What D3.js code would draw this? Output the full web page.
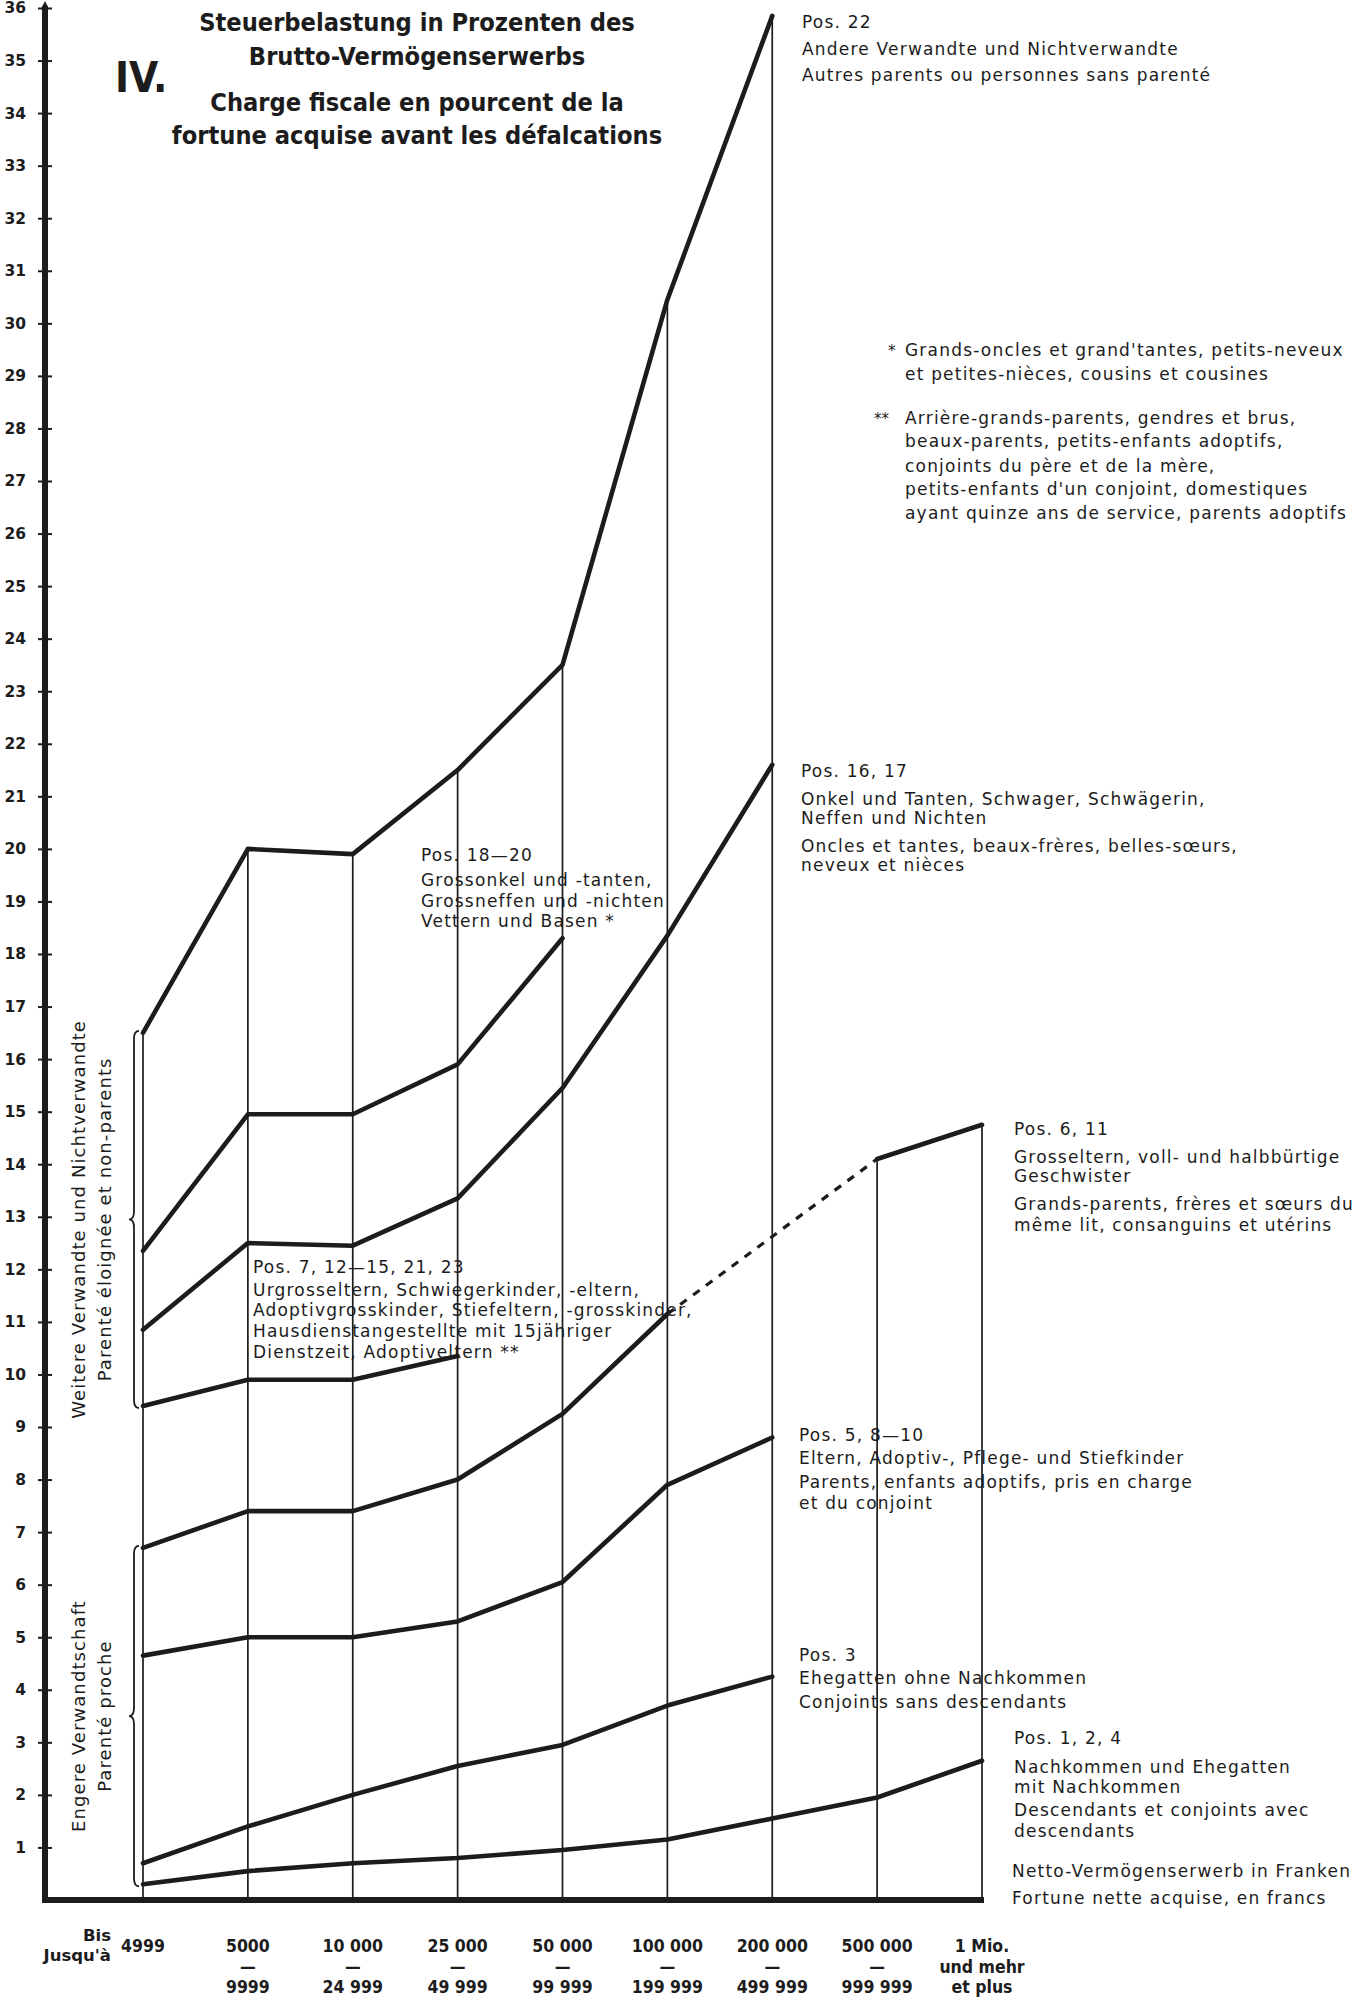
<!DOCTYPE html>
<html><head><meta charset="utf-8">
<script src="https://cdn.jsdelivr.net/npm/d3@7"></script>
<style>
html,body{margin:0;padding:0;background:#fff;}
svg{display:block;}
</style></head><body>
<svg id="c" width="1365" height="2001"></svg>
<script>
// ---------- DATA ----------
const categories = ["bis 4999","5000–9999","10 000–24 999","25 000–49 999","50 000–99 999","100 000–199 999","200 000–499 999","500 000–999 999","1 Mio. und mehr"];
const tickTop = ["4999","5000","10 000","25 000","50 000","100 000","200 000","500 000","1 Mio."];
const tickMid = ["","—","—","—","—","—","—","—","und mehr"];
const tickBot = ["","9999","24 999","49 999","99 999","199 999","499 999","999 999","et plus"];
const yTicks = d3.range(1, 37);

// tax burden in % per bracket (null = not drawn)
const pos22    = [16.5, 20.0, 19.9, 21.5, 23.5, 30.45, 35.85, null, null];
const pos18_20 = [12.35, 14.95, 14.95, 15.9, 18.3, null, null, null, null];
const pos16_17 = [10.85, 12.5, 12.45, 13.35, 15.45, 18.35, 21.6, null, null];
const pos7     = [9.4, 9.9, 9.9, 10.35, null, null, null, null, null];
const pos6_11  = [6.7, 7.4, 7.4, 8.0, 9.25, 11.15, null, 14.1, 14.75];
const pos5     = [4.65, 5.0, 5.0, 5.3, 6.05, 7.9, 8.8, null, null];
const pos3     = [0.7, 1.4, 2.0, 2.55, 2.95, 3.7, 4.25, null, null];
const pos124   = [0.3, 0.55, 0.7, 0.8, 0.95, 1.15, 1.55, 1.95, 2.65];

const groupFar  = [pos22, pos18_20, pos16_17, pos7];
const groupNear = [pos6_11, pos5, pos3, pos124];

const titleDe = ["Steuerbelastung in Prozenten des", "Brutto-Vermögenserwerbs"];
const titleFr = ["Charge fiscale en pourcent de la", "fortune acquise avant les défalcations"];
const chartNo = "IV.";
const note22   = ["Pos. 22", "Andere Verwandte und Nichtverwandte", "Autres parents ou personnes sans parenté"];
const noteStar1 = ["Grands-oncles et grand'tantes, petits-neveux", "et petites-nièces, cousins et cousines"];
const noteStar2 = ["Arrière-grands-parents, gendres et brus,", "beaux-parents, petits-enfants adoptifs,", "conjoints du père et de la mère,", "petits-enfants d'un conjoint, domestiques", "ayant quinze ans de service, parents adoptifs"];
const note16   = ["Pos. 16, 17", "Onkel und Tanten, Schwager, Schwägerin,", "Neffen und Nichten", "Oncles et tantes, beaux-frères, belles-sœurs,", "neveux et nièces"];
const note18   = ["Pos. 18—20", "Grossonkel und -tanten,", "Grossneffen und -nichten", "Vettern und Basen *"];
const note6    = ["Pos. 6, 11", "Grosseltern, voll- und halbbürtige", "Geschwister", "Grands-parents, frères et sœurs du", "même lit, consanguins et utérins"];
const note7    = ["Pos. 7, 12—15, 21, 23", "Urgrosseltern, Schwiegerkinder, -eltern,", "Adoptivgrosskinder, Stiefeltern, -grosskinder,", "Hausdienstangestellte mit 15jähriger", "Dienstzeit, Adoptiveltern **"];
const note5    = ["Pos. 5, 8—10", "Eltern, Adoptiv-, Pflege- und Stiefkinder", "Parents, enfants adoptifs, pris en charge", "et du conjoint"];
const note3    = ["Pos. 3", "Ehegatten ohne Nachkommen", "Conjoints sans descendants"];
const note124  = ["Pos. 1, 2, 4", "Nachkommen und Ehegatten", "mit Nachkommen", "Descendants et conjoints avec", "descendants"];
const noteAxis = ["Netto-Vermögenserwerb in Franken", "Fortune nette acquise, en francs"];
const groupFarLabel  = ["Weitere Verwandte und Nichtverwandte", "Parenté éloignée et non-parents"];
const groupNearLabel = ["Engere Verwandtschaft", "Parenté proche"];
const bisLabel = ["Bis", "Jusqu'à"];

// ---------- DRAW ----------
const svg = d3.select("#c");
const INK = "#1c1c1c";
const FONT = "'DejaVu Sans', 'Open Sans', sans-serif";
const NARROW = "'Liberation Sans Narrow', 'DejaVu Sans Condensed', 'Arial Narrow', sans-serif";

svg.append("rect").attr("width", 1365).attr("height", 2001).attr("fill", "#fff");

const y = d3.scaleLinear().domain([0, 36]).range([1900, 8]);
const x = d3.scalePoint().domain(categories).range([143, 982]);
const axisX = 45;

// vertical guide lines up to the highest series value at each bracket
const allSeries = [pos22, pos18_20, pos16_17, pos7, pos6_11, pos5, pos3, pos124];
const tops = categories.map((c, i) => d3.max(allSeries, s => s[i] == null ? undefined : s[i]));
svg.append("g").selectAll("line").data(categories).join("line")
  .attr("x1", d => x(d)).attr("x2", d => x(d))
  .attr("y1", y(0)).attr("y2", (d, i) => y(tops[i]))
  .attr("stroke", INK).attr("stroke-width", 1.7);

// series lines
const lineGen = d3.line()
  .defined(d => d.v != null)
  .x(d => x(d.c)).y(d => y(d.v));
const toPts = s => s.map((v, i) => ({c: categories[i], v}));

// dashed connection across gaps
const gapGen = d3.line().x(d => x(d.c)).y(d => y(d.v));
allSeries.forEach(s => {
  const idx = s.map((v, i) => v == null ? -1 : i).filter(i => i >= 0);
  for (let k = 1; k < idx.length; k++) {
    if (idx[k] - idx[k-1] > 1) {
      svg.append("path")
        .attr("d", gapGen([{c: categories[idx[k-1]], v: s[idx[k-1]]}, {c: categories[idx[k]], v: s[idx[k]]}]))
        .attr("fill", "none").attr("stroke", INK).attr("stroke-width", 3.2)
        .attr("stroke-dasharray", "8,8");
    }
  }
});
svg.append("g").selectAll("path").data(allSeries).join("path")
  .attr("d", s => lineGen(toPts(s)))
  .attr("fill", "none").attr("stroke", INK).attr("stroke-width", 4.6)
  .attr("stroke-linejoin", "round").attr("stroke-linecap", "round");

// y axis
const yAxis = d3.axisLeft(y).tickValues(yTicks).tickSize(0).tickPadding(19).tickFormat(d3.format("d"));
const gy = svg.append("g").attr("transform", `translate(${axisX},0)`).call(yAxis);
gy.select(".domain").remove();
gy.selectAll(".tick text").attr("font-family", FONT).attr("font-weight", "bold")
  .attr("font-size", 15.5).attr("fill", INK);
gy.selectAll(".tick").append("line").attr("x1", -7).attr("x2", 7)
  .attr("stroke", INK).attr("stroke-width", 2);
svg.append("line").attr("x1", axisX).attr("x2", axisX).attr("y1", y(0) + 3).attr("y2", y(36) - 2)
  .attr("stroke", INK).attr("stroke-width", 6);
svg.append("path").attr("d", `M${axisX-3.5},${y(36)} L${axisX},${y(36)-7} L${axisX+3.5},${y(36)} Z`).attr("fill", INK);

// baseline
svg.append("line").attr("x1", axisX - 3).attr("x2", x(categories[8]) + 2)
  .attr("y1", y(0)).attr("y2", y(0)).attr("stroke", INK).attr("stroke-width", 6);

// x labels
const gx = svg.append("g").attr("font-family", NARROW).attr("font-weight", "bold").attr("font-size", 17.5).attr("fill", INK).attr("text-anchor", "middle");
[[tickTop, 1952], [tickMid, 1973], [tickBot, 1993]].forEach(([arr, yy]) => {
  gx.selectAll(null).data(categories).join("text")
    .attr("x", d => x(d)).attr("y", yy).text((d, i) => arr[i]);
});
svg.append("g").attr("font-family", FONT).attr("font-weight", "bold").attr("font-size", 16.5).attr("fill", INK).attr("text-anchor", "end")
  .selectAll("text").data(bisLabel).join("text")
  .attr("x", 111).attr("y", (d, i) => 1941 + i * 20).text(d => d);

// title
const gt = svg.append("g").attr("font-family", NARROW).attr("font-weight", "bold").attr("fill", INK).attr("text-anchor", "middle").attr("font-size", 25.2);
gt.selectAll(null).data(titleDe).join("text").attr("x", 417).attr("y", (d, i) => 31 + i * 34).text(d => d);
gt.selectAll(null).data(titleFr).join("text").attr("x", 417).attr("y", (d, i) => 111 + i * 33).text(d => d);
svg.append("text").attr("x", 115).attr("y", 92).attr("font-family", NARROW).attr("font-weight", "bold")
  .attr("font-size", 42).attr("fill", INK).text(chartNo);

// annotation helper
function block(lines, x0, baselines) {
  svg.append("g").attr("font-family", FONT).attr("font-size", 17).attr("letter-spacing", 1.2).attr("fill", INK)
    .selectAll("text").data(lines).join("text")
    .attr("x", x0).attr("y", (d, i) => baselines[i]).text(d => d);
}
block(note22, 802, [28, 55, 81]);
block(noteStar1, 905, [356, 380]);
block(noteStar2, 905, [424, 447, 472, 495, 519]);
svg.append("text").attr("x", 888).attr("y", 356).attr("font-family", FONT).attr("font-size", 15).attr("fill", INK).text("*");
svg.append("text").attr("x", 874).attr("y", 424).attr("font-family", FONT).attr("font-size", 15).attr("fill", INK).text("**");
block(note16, 801, [777, 805, 824, 852, 871]);
block(note18, 421, [861, 886, 907, 927]);
block(note6, 1014, [1135, 1163, 1182, 1210, 1231]);
block(note7, 253, [1273, 1296, 1316, 1337, 1358]);
block(note5, 799, [1441, 1464, 1488, 1509]);
block(note3, 799, [1661, 1684, 1708]);
block(note124, 1014, [1744, 1773, 1793, 1816, 1837]);
block(noteAxis, 1012, [1877, 1904]);

// braces
function brace(yTop, yBot, xr, w) {
  const ym = (yTop + yBot) / 2, xm = xr - w / 2, xl = xr - w, r = 8;
  return `M${xr},${yTop} Q${xm},${yTop} ${xm},${yTop + r} L${xm},${ym - r} Q${xm},${ym} ${xl},${ym} Q${xm},${ym} ${xm},${ym + r} L${xm},${yBot - r} Q${xm},${yBot} ${xr},${yBot}`;
}
[[groupFar, groupFarLabel], [groupNear, groupNearLabel]].forEach(([grp, lab]) => {
  const firsts = grp.map(s => s[0]);
  const yTop = y(d3.max(firsts)) - 2, yBot = y(d3.min(firsts)) + 2;
  svg.append("path").attr("d", brace(yTop, yBot, 139, 10)).attr("fill", "none").attr("stroke", INK).attr("stroke-width", 1.8);
  const ym = (yTop + yBot) / 2;
  svg.append("g").attr("font-family", FONT).attr("font-size", 18).attr("letter-spacing", 1.1).attr("fill", INK).attr("text-anchor", "middle")
    .selectAll("text").data(lab).join("text")
    .attr("transform", (d, i) => `translate(${79 + i * 26},${ym}) rotate(-90)`)
    .attr("dy", "0.35em").text(d => d);
});
</script>
</body></html>
